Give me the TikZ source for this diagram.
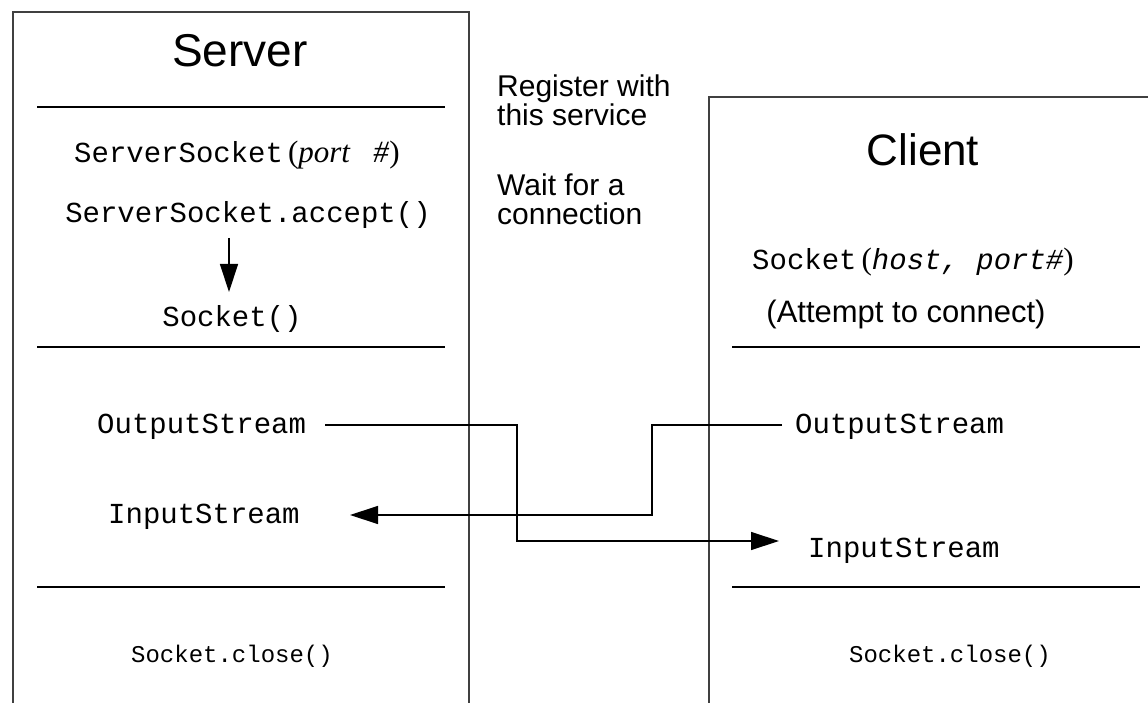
\documentclass[tikz,border=0pt]{standalone}
\usepackage{fontspec}
\usepackage{graphicx}
\setmainfont{Liberation Sans}
\newfontfamily\monof{Liberation Mono}
\newfontfamily\seriff{Liberation Serif}
\usetikzlibrary{arrows.meta}
\tikzset{
  boxline/.style={draw=black!75, line width=1.4pt},
  divider/.style={draw=black, line width=1.3pt},
  conn/.style={draw=black, line width=1.3pt},
  tip/.style={-{Triangle[length=28pt,width=18pt]}},
  title/.style={anchor=base, inner sep=0pt, font=\fontsize{46}{46}\selectfont},
  code/.style={anchor=base, inner sep=0pt, font=\monof\fontsize{29}{29}\selectfont},
  smallcode/.style={anchor=base, inner sep=0pt, font=\monof\fontsize{24}{24}\selectfont},
  note/.style={anchor=base west, inner sep=0pt, font=\fontsize{30}{30}\selectfont},
}
\begin{document}
\begin{tikzpicture}[x=1pt,y=-1pt]
\useasboundingbox (0,0) rectangle (1148,703);
% boxes
\draw[boxline] (13,703) -- (13,12) -- (469,12) -- (469,703);
\draw[boxline] (709,703) -- (709,97) -- (1148,97);
% dividers
\draw[divider] (37,107) -- (445,107);
\draw[divider] (37,347) -- (445,347);
\draw[divider] (37,587) -- (445,587);
\draw[divider] (732,347) -- (1140,347);
\draw[divider] (732,587) -- (1140,587);
% server texts
\node[title] (srv) at (240,67) {Server};
\node[code, anchor=base west] (ssock) at (74,163) {ServerSocket\hspace{5pt}{\seriff\fontsize{31}{31}\selectfont(\textit{port\ \ \ \#})}};
\node[code] (accept) at (248,223) {ServerSocket.accept()};
\node[code] (sock) at (232,326) {Socket()};
\node[code, anchor=base west] (sOut) at (97,433) {OutputStream};
\node[code, anchor=base west] (sIn) at (108,523) {InputStream};
\node[smallcode] (sClose) at (232,662) {Socket.close()};
% middle notes
\node[note] (reg1) at (497,97) {Register with};
\node[note] (reg2) at (497,126) {this service};
\node[note] (wait1) at (497,196) {Wait for a};
\node[note] (wait2) at (497,225) {connection};
% client texts
\node[title, font=\fontsize{44}{44}\selectfont] (cli) at (923,166) {Client};
\node[code, anchor=base west] (csock) at (752,270) {Socket\hspace{5pt}{\seriff\fontsize{31}{31}\selectfont(}{\itshape host, port\#}{\seriff\fontsize{31}{31}\selectfont)}};
\node[note, anchor=base, font=\fontsize{31}{31}\selectfont] (att) at (906,322) {(Attempt to connect)};
\node[code, anchor=base west] (cOut) at (795,433) {OutputStream};
\node[code, anchor=base west] (cIn) at (808,557) {InputStream};
\node[smallcode] (cClose) at (950,662) {Socket.close()};
% connectors
\coordinate (b1) at (517,425);
\coordinate (b2) at (652,425);
\draw[conn,tip] (229,238) -- (229,292);
\draw[conn,tip] (325,425) -- (b1) |- (779,541);
\draw[conn,tip] (782,425) -- (b2) |- (350,515);
\end{tikzpicture}
\end{document}
